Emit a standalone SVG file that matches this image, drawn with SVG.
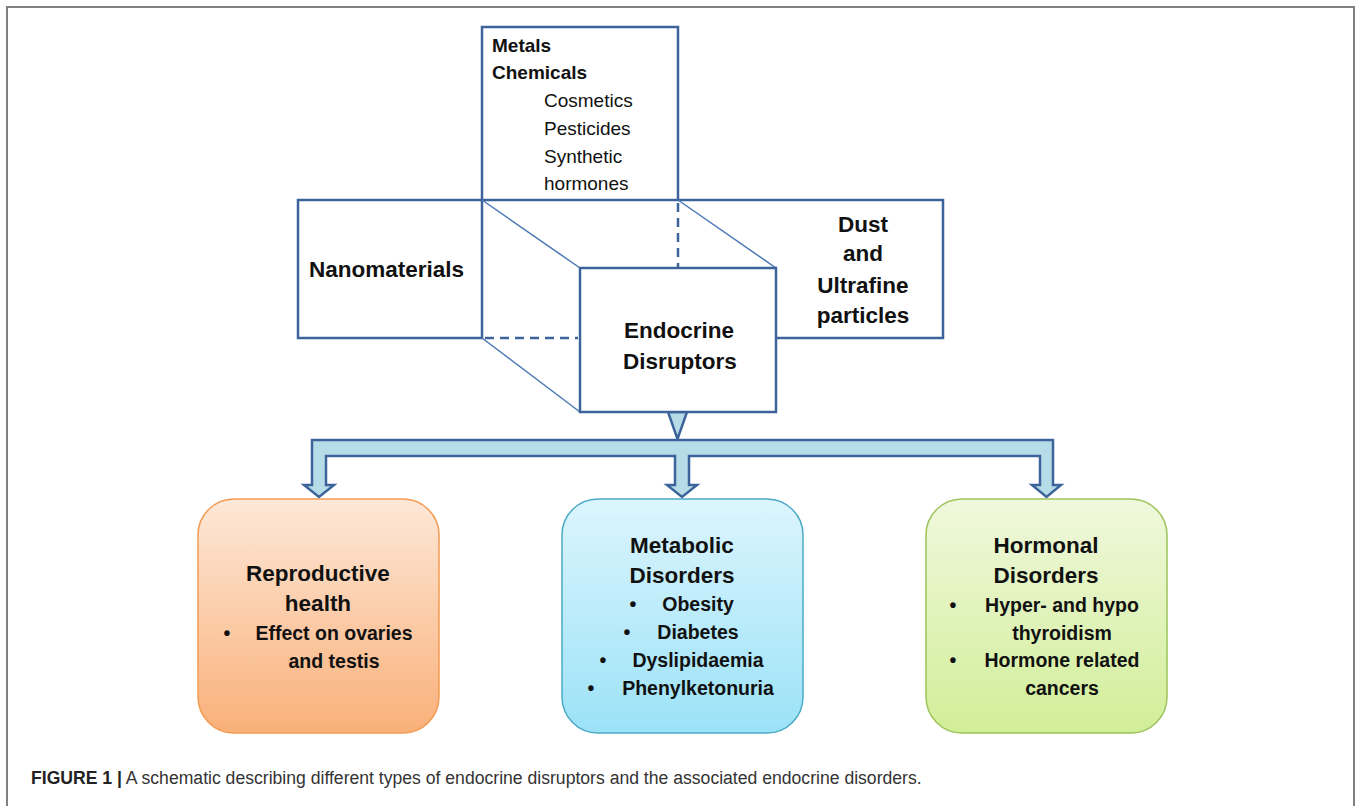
<svg xmlns="http://www.w3.org/2000/svg" width="1358" height="806" viewBox="0 0 1358 806">
<defs>
<linearGradient id="gO" x1="0" y1="0" x2="0" y2="1"><stop offset="0" stop-color="#fde8d8"/><stop offset="1" stop-color="#f9b079"/></linearGradient>
<linearGradient id="gB" x1="0" y1="0" x2="0" y2="1"><stop offset="0" stop-color="#dcf5fd"/><stop offset="1" stop-color="#9be2f7"/></linearGradient>
<linearGradient id="gG" x1="0" y1="0" x2="0" y2="1"><stop offset="0" stop-color="#f0f8dd"/><stop offset="1" stop-color="#d1ee98"/></linearGradient>
<style>
.box{fill:#fff;stroke:#3c649a;stroke-width:2.5}
.edge{fill:none;stroke:#3c649a;stroke-width:2.5}
.thin{fill:none;stroke:#4a78b5;stroke-width:1.5}
.dash{fill:none;stroke:#3c649a;stroke-width:2.5;stroke-dasharray:9 6}
.arr{fill:#b6dce7;stroke:#3c649a;stroke-width:2.5;stroke-linejoin:miter}
text{font-family:"Liberation Sans",Arial,sans-serif;fill:#111}
.b{font-weight:bold}
.t19{font-size:19px}
.h{font-size:22.5px;font-weight:bold}
.i{font-size:19.5px;font-weight:bold}
.m{text-anchor:middle}
</style>
</defs>
<rect width="1358" height="806" fill="#fff"/>
<path d="M7,806 V7 H1354 V806" fill="none" stroke="#808080" stroke-width="2"/>

<rect x="298" y="200" width="645" height="138" fill="#fff"/>
<g id="nanomaterials">
<rect class="box" x="298" y="200" width="184" height="138"/>
<text class="h" x="309" y="277">Nanomaterials</text>
</g>
<g id="dust">
<path class="edge" d="M678,200 H943 V338 H776"/>
<text class="h m" x="863" y="232">Dust</text>
<text class="h m" x="863" y="261">and</text>
<text class="h m" x="863" y="293">Ultrafine</text>
<text class="h m" x="863" y="323">particles</text>
</g>
<g id="chemicals">
<rect class="box" x="482" y="27" width="196" height="173"/>
<text class="t19 b" x="492" y="52">Metals</text>
<text class="t19 b" x="492" y="79">Chemicals</text>
<text class="t19" x="544" y="107">Cosmetics</text>
<text class="t19" x="544" y="135">Pesticides</text>
<text class="t19" x="544" y="163">Synthetic</text>
<text class="t19" x="544" y="190">hormones</text>
</g>

<g id="connectors">
<line class="thin" x1="482" y1="200" x2="580" y2="268"/>
<line class="thin" x1="678" y1="200" x2="776" y2="268"/>
<line class="thin" x1="482" y1="338" x2="580" y2="412"/>
<line class="dash" x1="678" y1="203" x2="678" y2="268"/>
<line class="dash" x1="485" y1="338" x2="578" y2="338"/>
<path class="arr" d="M668,412 L687,412 L677.5,439 Z"/>
<path class="arr" d="M312,440 H1053 V485 H1061 L1046.5,497 L1032,485 H1040 V456 H689 V485 H697 L682,497 L667,485 H675 V456 H326 V485 H334 L319,497 L304,485 H312 Z"/>
</g>

<g id="endocrine">
<rect class="box" x="580" y="268" width="196" height="144"/>
<text class="h m" x="679" y="338">Endocrine</text>
<text class="h m" x="680" y="369">Disruptors</text>
</g>

<g id="reproductive">
<rect x="198" y="499" width="241" height="234" rx="36" fill="url(#gO)" stroke="#f39a52" stroke-width="1.5"/>
<text class="h m" x="318" y="581">Reproductive</text>
<text class="h m" x="318" y="611">health</text>
<text class="i m" x="227" y="640">•</text>
<text class="i m" x="334" y="640">Effect on ovaries</text>
<text class="i m" x="334" y="668">and testis</text>
</g>

<g id="metabolic">
<rect x="562" y="499" width="241" height="234" rx="36" fill="url(#gB)" stroke="#4aaac6" stroke-width="1.5"/>
<text class="h m" x="682" y="553">Metabolic</text>
<text class="h m" x="682" y="583">Disorders</text>
<text class="i m" x="633" y="611">•</text>
<text class="i m" x="698" y="611">Obesity</text>
<text class="i m" x="627" y="639">•</text>
<text class="i m" x="698" y="639">Diabetes</text>
<text class="i m" x="603" y="667">•</text>
<text class="i m" x="698" y="667">Dyslipidaemia</text>
<text class="i m" x="591" y="695">•</text>
<text class="i m" x="698" y="695">Phenylketonuria</text>
</g>

<g id="hormonal">
<rect x="926" y="499" width="241" height="234" rx="36" fill="url(#gG)" stroke="#9dc35a" stroke-width="1.5"/>
<text class="h m" x="1046" y="553">Hormonal</text>
<text class="h m" x="1046" y="583">Disorders</text>
<text class="i m" x="953" y="612">•</text>
<text class="i m" x="1062" y="612">Hyper- and hypo</text>
<text class="i m" x="1062" y="640">thyroidism</text>
<text class="i m" x="953" y="667">•</text>
<text class="i m" x="1062" y="667">Hormone related</text>
<text class="i m" x="1062" y="695">cancers</text>
</g>

<text x="31" y="784" style="font-size:17.6px;fill:#333"><tspan font-weight="bold" fill="#222">FIGURE 1 |</tspan> A schematic describing different types of endocrine disruptors and the associated endocrine disorders.</text>
</svg>
